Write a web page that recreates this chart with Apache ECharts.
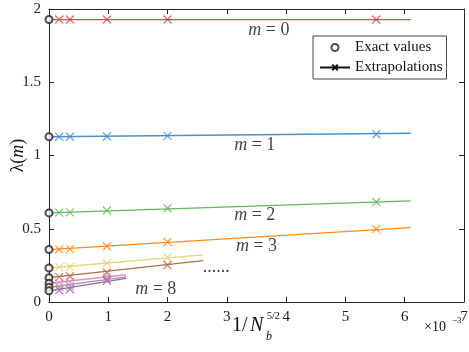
<!DOCTYPE html>
<html>
<head>
<meta charset="utf-8">
<title>lambda(m) extrapolation</title>
<script src="https://cdn.jsdelivr.net/npm/echarts@6/dist/echarts.min.js"></script>
<style>
  html, body { margin: 0; padding: 0; background: #fff; }
  #chart { width: 469px; height: 352px; }
</style>
</head>
<body>
<div id="chart"></div>
<script>
// x = 1/N_b^{5/2}, in units of 1e-3 (N_b = 32, 24, 16, 12, 8)
var xPts = [0.173, 0.354, 0.977, 2.0, 5.52];
var mLabels = ['0', '1', '2', '3', '4', '5', '6', '7', '8'];
var colors = ['#ec434a', '#4a8fcc', '#61b95b', '#ff8b1f', '#e2d57c', '#b26c44', '#f587c4', '#9a9a9a', '#a45fb6'];
// exact values at x = 0
var exact = [1.928, 1.128, 0.608, 0.358, 0.232, 0.166, 0.128, 0.100, 0.076];
// extrapolation points (x markers), one list per m
var extrap = [
  [1.928, 1.928, 1.928, 1.928, 1.928],
  [1.128, 1.128, 1.130, 1.134, 1.145],
  [0.610, 0.612, 0.624, 0.640, 0.683],
  [0.358, 0.361, 0.380, 0.410, 0.498],
  [0.238, 0.240, 0.264, 0.305],
  [0.170, 0.176, 0.200, 0.252],
  [0.132, 0.136, 0.172],
  [0.103, 0.108, 0.158],
  [0.080, 0.087, 0.145]
];
// straight fit lines: value at x=0, end x, value at end x
var fitStart = [1.928, 1.128, 0.608, 0.358, 0.232, 0.166, 0.128, 0.100, 0.076];
var fitEndX = [6.1, 6.1, 6.1, 6.1, 2.6, 2.6, 1.3, 1.3, 1.3];
var fitEnd = [1.928, 1.152, 0.690, 0.507, 0.322, 0.282, 0.186, 0.172, 0.162];
// in-plot annotations
var notes = [
  [3.71, 1.857, '{i|m} = 0'],
  [3.47, 1.072, '{i|m} = 1'],
  [3.47, 0.594, '{i|m} = 2'],
  [3.50, 0.382, '{i|m} = 3'],
  [2.82, 0.238, '......'],
  [1.80, 0.089, '{i|m} = 8']
];
var xTicks = [0, 1, 2, 3, 4, 5, 6, 7];
var yTicks = [0, 0.5, 1, 1.5, 2];

var serif = 'Liberation Serif';
var axisCol = '#262626';
var crossPath = 'path://M0,0L10,10M10,0L0,10';

var series = [];
for (var m = 0; m < exact.length; m++) {
  series.push({
    type: 'line',
    data: [[0, fitStart[m]], [fitEndX[m], fitEnd[m]]],
    symbol: 'none',
    lineStyle: { color: colors[m], width: 1.3 },
    silent: true,
    z: 2
  });
  series.push({
    type: 'scatter',
    data: extrap[m].map(function (v, i) { return [xPts[i], v]; }),
    symbol: crossPath,
    symbolSize: 8,
    itemStyle: { color: 'rgba(0,0,0,0)', borderColor: colors[m], borderWidth: 1.3 },
    clip: false,
    z: 3
  });
}
series.push({
  name: 'Exact values',
  type: 'scatter',
  data: exact.map(function (v) { return [0, v]; }),
  symbol: 'emptyCircle',
  symbolSize: 7,
  itemStyle: { color: '#222', borderWidth: 0.8 },
  clip: false,
  z: 4
});
series.push({
  name: 'Extrapolations',
  type: 'line',
  data: [],
  symbol: crossPath,
  symbolSize: 8,
  lineStyle: { color: '#111', width: 1.2 },
  itemStyle: { color: 'rgba(0,0,0,0)', borderColor: '#111', borderWidth: 1.2 }
});
series.push({
  type: 'scatter',
  data: notes,
  symbolSize: 0,
  silent: true,
  label: {
    show: true,
    position: 'inside',
    formatter: function (p) { return p.data[2]; },
    fontFamily: serif,
    fontSize: 18,
    color: '#111',
    rich: { i: { fontFamily: serif, fontStyle: 'italic', fontSize: 18, color: '#111' } }
  },
  z: 5
});

function axisBase(pos, min, max, interval, ticks, showLabel) {
  return {
    type: 'value',
    position: pos,
    min: min,
    max: max,
    interval: interval,
    axisLine: { show: true, onZero: false, lineStyle: { color: axisCol, width: 1 } },
    axisTick: { show: true, inside: true, length: 5, lineStyle: { color: axisCol } },
    splitLine: { show: false },
    axisLabel: {
      show: showLabel,
      fontFamily: serif,
      fontSize: 15,
      color: '#222',
      margin: 8,
      formatter: function (v) { return ticks.indexOf(v) >= 0 ? String(v) : ''; }
    }
  };
}

var yLeft = axisBase('left', 0, 2, 0.5, yTicks, true);
yLeft.name = '{n|λ(}{i|m}{n|)}';
yLeft.nameLocation = 'middle';
yLeft.nameGap = 22;
yLeft.nameMoveOverlap = false;
yLeft.nameRotate = 90;
yLeft.nameTextStyle = {
  rich: {
    n: { fontFamily: serif, fontSize: 18, color: '#111' },
    i: { fontFamily: serif, fontSize: 18, fontStyle: 'italic', color: '#111' }
  }
};

var option = {
  animation: false,
  backgroundColor: '#fff',
  grid: { left: 49, right: 5, top: 9, bottom: 50, containLabel: false, outerBoundsMode: 'none' },
  xAxis: [
    axisBase('bottom', 0, 7, 1, xTicks, true),
    axisBase('top', 0, 7, 1, xTicks, false)
  ],
  yAxis: [
    yLeft,
    axisBase('right', 0, 2, 0.5, yTicks, false)
  ],
  legend: {
    data: [
      { name: 'Exact values', icon: 'emptyCircle' },
      { name: 'Extrapolations' }
    ],
    orient: 'vertical',
    left: 313,
    top: 36,
    itemWidth: 30,
    itemHeight: 7,
    itemGap: 5,
    padding: [4, 4, 4, 6],
    borderColor: '#444',
    borderWidth: 1,
    backgroundColor: '#fff',
    selectedMode: false,
    textStyle: { fontFamily: serif, fontSize: 15, color: '#111' }
  },
  graphic: [
    { type: 'text', left: 232, top: 316, style: { text: '1/', fontFamily: serif, fontSize: 20, fill: '#111' } },
    { type: 'text', left: 250, top: 316, style: { text: 'N', fontFamily: serif, fontSize: 20, fontStyle: 'italic', fill: '#111' } },
    { type: 'text', left: 267, top: 311, style: { text: '5/2', fontFamily: serif, fontSize: 10, fill: '#111' } },
    { type: 'text', left: 266, top: 331, style: { text: 'b', fontFamily: serif, fontSize: 12, fontStyle: 'italic', fill: '#111' } },
    { type: 'text', left: 424, top: 320, style: { text: '×10', fontFamily: serif, fontSize: 14, fill: '#111' } },
    { type: 'text', left: 452, top: 316, style: { text: '−3', fontFamily: serif, fontSize: 9, fill: '#111' } }
  ],
  series: series
};

var chart = echarts.init(document.getElementById('chart'), null, { renderer: 'canvas' });
chart.setOption(option);
</script>
</body>
</html>
